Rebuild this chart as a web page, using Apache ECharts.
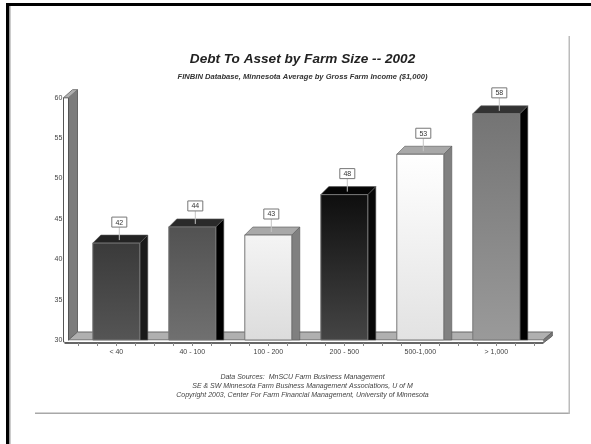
<!DOCTYPE html>
<html>
<head>
<meta charset="utf-8">
<style>html,body{margin:0;padding:0;background:#fff}#c{width:591px;height:444px}</style>
<script src="https://cdn.jsdelivr.net/npm/echarts@6/dist/echarts.min.js"></script>
</head>
<body>
<div id="c"></div>
<script>
// Debt-to-asset ratio by gross farm income class
const categories = ['< 40', '40 - 100', '100 - 200', '200 - 500', '500-1,000', '> 1,000'];
const debtToAsset = [42, 44, 43, 48, 53, 58];
const yTicks = [30, 35, 40, 45, 50, 55, 60];
const sourceLines = [
  'Data Sources:  MnSCU Farm Business Management',
  'SE & SW Minnesota Farm Business Management Associations, U of M',
  'Copyright 2003, Center For Farm Financial Management, University of Minnesota'
];

// Shades per bar: front gradient start/end, top face, side face
const barShades = [
  ['#3a3a3a', '#555555', '#232323', '#1a1a1a'],
  ['#525252', '#707070', '#2a2a2a', '#000000'],
  ['#f4f4f4', '#dcdcdc', '#a8a8a8', '#808080'],
  ['#0e0e0e', '#454545', '#050505', '#080808'],
  ['#ffffff', '#e2e2e2', '#a8a8a8', '#808080'],
  ['#747474', '#9a9a9a', '#333333', '#000000']
];
const DEPTH_X = 8, DEPTH_Y = 8, BAR_WIDTH = 47;
const font = 'Liberation Sans';

// Left wall, floor and base line of the 3D plot box
function renderBox(params, api) {
  const cs = params.coordSys;
  const x0 = cs.x - 0.8, right = cs.x + cs.width;
  const y0 = api.coord([0, 30])[1], y1 = api.coord([0, 60])[1];
  const ticks = [];
  for (let k = 0; k <= 24; k++) {
    const tx = Math.round(cs.x + cs.width * k / 24) + 0.5;
    ticks.push({ type: 'line', shape: { x1: tx, y1: y0 + 3, x2: tx, y2: y0 + 6 },
      style: { stroke: '#888', lineWidth: 1 } });
  }
  return { type: 'group', children: [
    { type: 'polygon', shape: { points: [[x0 - 9, y0], [x0, y0 - DEPTH_Y], [x0, y1 - 8], [x0 - 9, y1]] },
      style: { fill: '#7c7c7c', stroke: '#666', lineWidth: 1 } },
    { type: 'polygon', shape: { points: [[x0 - 9, y0], [x0, y0 - DEPTH_Y], [right + 18, y0 - DEPTH_Y], [right + 9, y0]] },
      style: { fill: '#b0b0b0', stroke: '#666', lineWidth: 1 } },
    { type: 'polygon', shape: { points: [[right + 9, y0], [right + 18, y0 - DEPTH_Y], [right + 18, y0 - DEPTH_Y + 4], [right + 9, y0 + 3]] },
      style: { fill: '#777', stroke: '#666', lineWidth: 1 } },
    { type: 'rect', shape: { x: x0 - 14, y: y1, width: 5, height: y0 - y1 + 2 },
      style: { fill: '#fff', stroke: '#555', lineWidth: 1 } },
    { type: 'polygon', shape: { points: [[x0 - 14, y1], [x0 - 9, y1], [x0, y1 - 8], [x0 - 5, y1 - 8]] },
      style: { fill: '#b0b0b0', stroke: '#777', lineWidth: 1 } },
    { type: 'rect', shape: { x: x0 - 13, y: y0 + 0.5, width: right + 22 - x0, height: 2 },
      style: { fill: '#fff', stroke: 'none' } },
    { type: 'line', shape: { x1: x0 - 13, y1: y0 + 3, x2: right + 9, y2: y0 + 3 },
      style: { stroke: '#333', lineWidth: 1.5 } },
    ...ticks
  ] };
}

// One prism per category, with a boxed value label on a short leader
function renderBar(params, api) {
  const i = api.value(0), v = api.value(1);
  const top = api.coord([i, v]), base = api.coord([i, 30]);
  const xl = top[0] - BAR_WIDTH / 2, xr = top[0] + BAR_WIDTH / 2, yt = top[1], yb = base[1];
  const s = barShades[i];
  const cx = top[0] + 3;
  return { type: 'group', children: [
    { type: 'polygon', shape: { points: [[xr, yt], [xr + DEPTH_X, yt - DEPTH_Y], [xr + DEPTH_X, yb], [xr, yb]] },
      style: { fill: s[3], stroke: '#555', lineWidth: 0.6 } },
    { type: 'polygon', shape: { points: [[xl, yt], [xl + DEPTH_X, yt - DEPTH_Y], [xr + DEPTH_X, yt - DEPTH_Y], [xr, yt]] },
      style: { fill: s[2], stroke: '#555', lineWidth: 0.6 } },
    { type: 'rect', shape: { x: xl, y: yt, width: BAR_WIDTH, height: yb - yt },
      style: { stroke: '#777', lineWidth: 1,
        fill: new echarts.graphic.LinearGradient(0, 0, 0, 1, [{ offset: 0, color: s[0] }, { offset: 1, color: s[1] }]) } },
    { type: 'line', shape: { x1: cx, y1: yt - 3, x2: cx, y2: yt - 16 }, style: { stroke: '#c4c4c4', lineWidth: 1 } },
    { type: 'rect', shape: { x: cx - 7.5, y: yt - 26, width: 15, height: 10 },
      style: { fill: '#fff', stroke: '#777', lineWidth: 1 } },
    { type: 'text', style: { x: cx, y: yt - 20.5, text: String(v), align: 'center', verticalAlign: 'middle',
        font: '7px "' + font + '"', fill: '#333' } }
  ] };
}

const chart = echarts.init(document.getElementById('c'), null, { renderer: 'canvas' });
chart.setOption({
  animation: false,
  backgroundColor: '#fff',
  // Frame on the top and left, plus the thin rule around the chart area
  graphic: [
    { type: 'rect', shape: { x: 6, y: 3, width: 3, height: 441 }, style: { fill: '#000' } },
    { type: 'rect', shape: { x: 9, y: 6, width: 1.5, height: 438 }, style: { fill: '#999' } },
    { type: 'rect', shape: { x: 6, y: 3, width: 585, height: 3 }, style: { fill: '#000' } },
    { type: 'rect', shape: { x: 35, y: 412.5, width: 535, height: 1.5 }, style: { fill: '#a8a8a8' } },
    { type: 'rect', shape: { x: 568.5, y: 36, width: 1.5, height: 378 }, style: { fill: '#bcbcbc' } },
    { type: 'text', x: 302.5, y: 59, style: { text: 'Debt To Asset by Farm Size -- 2002', align: 'center', verticalAlign: 'middle',
        font: 'italic bold 13.6px "' + font + '"', fill: '#222' } },
    { type: 'text', x: 302.5, y: 77, style: { text: 'FINBIN Database, Minnesota Average by Gross Farm Income ($1,000)', align: 'center', verticalAlign: 'middle',
        font: 'italic bold 7.6px "' + font + '"', fill: '#333' } },
    ...sourceLines.map((t, i) => ({ type: 'text', x: 302.5, y: 377 + i * 8.8,
      style: { text: t, align: 'center', verticalAlign: 'middle', font: 'italic 7px "' + font + '"', fill: '#444' } }))
  ],
  grid: { left: 78.3, right: 56.7, top: 97.7, bottom: 104 },
  xAxis: {
    type: 'category', data: categories, offset: 3,
    axisLine: { show: false },
    axisTick: { show: false },
    axisLabel: { color: '#444', fontSize: 7, fontFamily: font, margin: 6 }
  },
  yAxis: {
    type: 'value', min: yTicks[0], max: yTicks[yTicks.length - 1], interval: 5, offset: 15,
    splitLine: { show: false }, axisLine: { show: false }, axisTick: { show: false },
    axisLabel: { color: '#444', fontSize: 7, fontFamily: font, margin: 1 }
  },
  series: [
    { type: 'custom', renderItem: renderBox, data: [[0, 30]], silent: true, z: 1, clip: false },
    { type: 'custom', renderItem: renderBar, silent: true, z: 2, clip: false,
      encode: { x: 0, y: 1 }, data: debtToAsset.map((v, i) => [i, v]) }
  ]
});
</script>
</body>
</html>
